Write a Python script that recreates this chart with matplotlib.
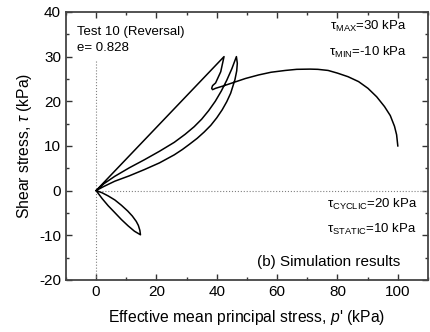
import matplotlib
matplotlib.use("Agg")
import matplotlib.pyplot as plt
from matplotlib.ticker import MultipleLocator

plt.rcParams['font.family'] = ['Liberation Sans', 'DejaVu Sans']
plt.rcParams['mathtext.fontset'] = 'custom'
plt.rcParams['mathtext.rm'] = 'Liberation Sans'
plt.rcParams['mathtext.it'] = 'Liberation Sans:italic'
plt.rcParams['axes.unicode_minus'] = False

# Stress path: p' (kPa), tau (kPa)
# monotonic loading from p'=100 up to the first peak
p_mono = [100, 99.6, 98.9, 97.5, 95.6, 93, 90.1, 87, 83.5, 80, 76.9, 73.5, 70.9, 66.5, 62.7,
          58, 53.9, 49.5, 45.1, 42, 39.6, 38.6, 38.3, 38.6, 39.6, 41.3, 42.4]
t_mono = [10, 12.5, 14.4, 16.8, 18.8, 21, 22.9, 24.4, 25.5, 26.3, 26.9, 27.15, 27.2, 27.15, 26.9,
          26.5, 25.9, 25.1, 24.1, 23.4, 22.9, 22.6, 22.9, 23.5, 24.1, 26.6, 30]
# unloading, straight line to the origin
p_unload = [42.4, 0]
t_unload = [30, 0]
# extension lobe down to tau = -10 and back
p_ext = [0, 2, 4, 6, 8.4, 10.6, 12.7, 14.7, 14.5, 14.0, 13.3, 12.0, 10.5, 8.4, 6.2, 4, 2, 0]
t_ext = [0, -1.8, -3.4, -4.8, -6.5, -7.9, -9.1, -9.9, -8.9, -7.8, -6.9, -5.7, -4.6, -3.3, -2.1, -1.2, -0.5, 0]
# reloading to the second peak
p_reload = [0, 2.5, 6.2, 11, 16.0, 21, 25.9, 29.5, 32.5, 35, 37.3, 39.5, 41.5, 43.3, 45.0, 46.5]
t_reload = [0, 1.5, 3.2, 5.1, 6.9, 8.8, 10.8, 12.6, 14.3, 16.0, 17.9, 20.0, 22.3, 24.7, 27.3, 30]
# second unloading back to the origin
p_down = [46.5, 46.8, 46.6, 46.0, 44.6, 43.3, 41.8, 40, 38, 35.8, 33.5, 31, 28.6, 25.9, 21, 16.0, 11, 6.2, 2.5, 0]
t_down = [30, 28.5, 26.8, 24.8, 21.8, 19.9, 18.1, 16.3, 14.6, 13.1, 11.7, 10.4, 9.2, 8.0, 6.2, 4.7, 3.3, 2.1, 0.9, 0]

p_path = p_mono + p_unload[1:] + p_ext[1:] + p_reload[1:] + p_down[1:]
t_path = t_mono + t_unload[1:] + t_ext[1:] + t_reload[1:] + t_down[1:]

fig = plt.figure(figsize=(4.31, 3.32), dpi=100)
ax = fig.add_axes([0.153, 0.157, 0.840, 0.807])

ax.plot([0, 0], [-20, 29], color='gray', linestyle=':', linewidth=0.8)
ax.plot([0, 110], [0, 0], color='gray', linestyle=':', linewidth=0.8)
ax.plot(p_path, t_path, color='black', linewidth=1.1, solid_joinstyle='round')

ax.set_xlim(-10, 110)
ax.set_ylim(-20, 40)
ax.xaxis.set_major_locator(MultipleLocator(20))
ax.xaxis.set_minor_locator(MultipleLocator(10))
ax.yaxis.set_major_locator(MultipleLocator(10))
ax.yaxis.set_minor_locator(MultipleLocator(5))
ax.tick_params(which='both', direction='in', top=True, right=True, labelsize=11, colors='#333333',
               labelcolor='black')
ax.tick_params(which='major', length=4, width=1)
ax.tick_params(which='minor', length=2, width=1)
for s in ax.spines.values():
    s.set_linewidth(1.3)
    s.set_color('#444444')

ax.set_xlabel("Effective mean principal stress, $p$' (kPa)", fontsize=11.3, labelpad=7)
ax.set_ylabel(r"Shear stress, $\tau$ (kPa)", fontsize=11.3, labelpad=4)

ax.text(-6.4, 35.6, "Test 10 (Reversal)", fontsize=9.5, va='center')
ax.text(-6.4, 32.0, "e= 0.828", fontsize=9.5, va='center')
ax.text(102.8, 36.7, r"τ$_{\rm MAX}$=30 kPa", fontsize=9.5, ha='right', va='center')
ax.text(103.2, 31.0, r"τ$_{\rm MIN}$=-10 kPa", fontsize=9.5, ha='right', va='center')
ax.text(106.6, -3.1, r"τ$_{\rm CYCLIC}$=20 kPa", fontsize=9.5, ha='right', va='center')
ax.text(106.2, -8.7, r"τ$_{\rm STATIC}$=10 kPa", fontsize=9.5, ha='right', va='center')
ax.text(100.7, -15.9, "(b) Simulation results", fontsize=11, ha='right', va='center')

fig.savefig("out.png", dpi=100)
